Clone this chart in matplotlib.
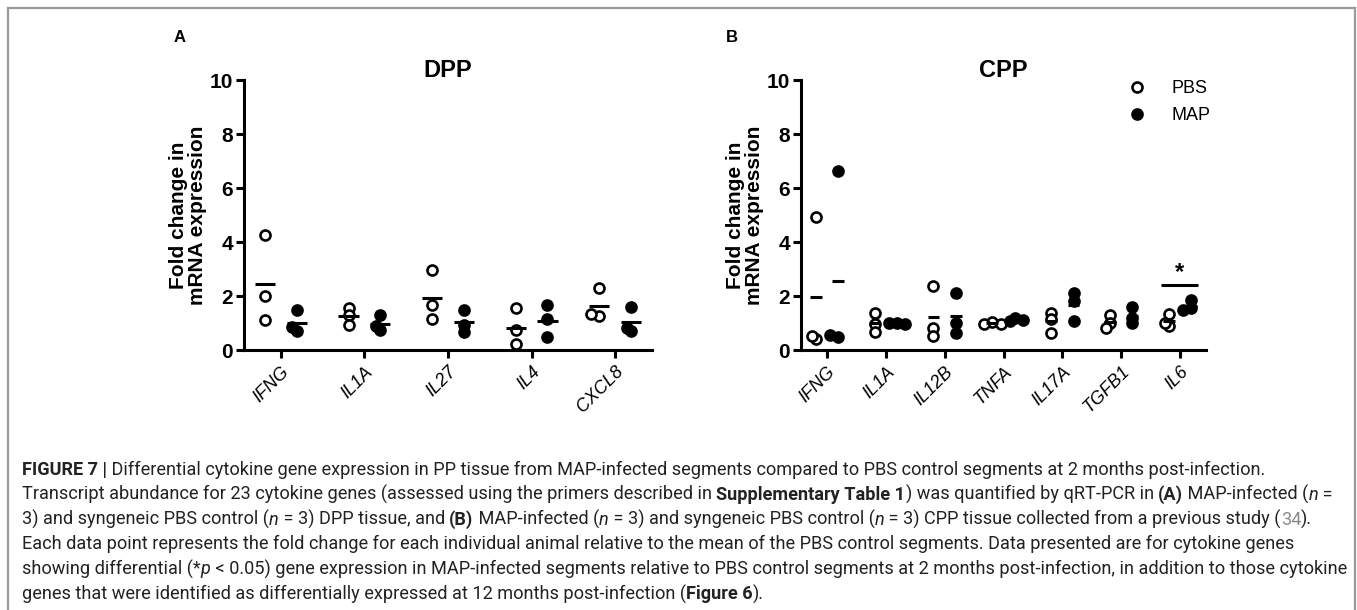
import numpy as np
import matplotlib
matplotlib.use("Agg")
import matplotlib.pyplot as plt
from matplotlib import font_manager
from matplotlib.lines import Line2D

# fold change values (3 animals per group)
genes_a = ["IFNG", "IL1A", "IL27", "IL4", "CXCL8"]
pbs_a = [[4.25, 2.0, 1.1], [1.54, 1.29, 0.94], [2.98, 1.66, 1.14],
         [1.54, 0.73, 0.23], [2.29, 1.25, 1.35]]
map_a = [[1.47, 0.69, 0.87], [1.29, 0.75, 0.89], [1.5, 0.66, 0.91],
         [1.66, 1.13, 0.48], [1.58, 0.69, 0.83]]

genes_b = ["IFNG", "IL1A", "IL12B", "TNFA", "IL17A", "TGFB1", "IL6"]
pbs_b = [[4.94, 0.4, 0.52], [1.36, 0.95, 0.67], [2.37, 0.83, 0.52],
         [1.02, 0.95, 0.98], [1.38, 1.16, 0.64], [1.28, 1.01, 0.83],
         [1.32, 0.89, 1.0]]
map_b = [[6.64, 0.49, 0.56], [1.01, 1.01, 0.95], [2.12, 0.99, 0.64],
         [1.2, 1.07, 1.11], [2.1, 1.81, 1.07], [1.6, 1.2, 1.01],
         [1.85, 1.55, 1.5]]

sig_gene_b = "IL6"
sig_height = 2.4

W, H = 1357, 610
plt.rcParams["font.family"] = ["Liberation Sans", "DejaVu Sans"]
fig = plt.figure(figsize=(W / 100, H / 100), dpi=100)


def fx(px):
    return px / W


def fy(py):
    return 1 - py / H


def swarm(ax, x0, vals, diam=10.0):
    # simple beeswarm, points may overlap a bit like in Prism
    fig.canvas.draw()
    bb = ax.get_window_extent()
    x_lo, x_hi = ax.get_xlim()
    y_lo, y_hi = ax.get_ylim()
    kx = bb.width / (x_hi - x_lo)
    ky = bb.height / (y_hi - y_lo)
    placed = []
    xs = []
    step = 0.42 * diam
    for v in vals:
        for k in [0, -1, 1, -2, 2]:
            px = k * step
            py = v * ky
            if all(np.hypot(px - a, py - b) >= 0.5 * diam for a, b in placed):
                break
        placed.append((px, py))
        xs.append(x0 + px / kx)
    return xs


def panel(rect, genes, pbs, mapv, title, off, half):
    ax = fig.add_axes(rect)
    n = len(genes)
    ax.set_xlim(-0.44, n - 0.56)
    ax.set_ylim(0, 10)
    for s in ["top", "right"]:
        ax.spines[s].set_visible(False)
    for s in ["left", "bottom"]:
        ax.spines[s].set_linewidth(2.2)
    ax.tick_params(axis="both", direction="out", length=6, width=2.2)
    ax.set_yticks([0, 2, 4, 6, 8, 10])
    ax.set_yticklabels(["0", "2", "4", "6", "8", "10"], fontsize=15,
                       fontweight="bold")
    ax.tick_params(axis="y", pad=2)
    ax.set_xticks(range(n))
    ax.set_xticklabels(genes, rotation=45, ha="right", va="top",
                       rotation_mode="anchor", fontsize=13, style="italic")
    ax.set_ylabel("Fold change in\nmRNA expression", fontsize=15,
                  fontweight="bold", labelpad=2, linespacing=1.0)
    ax.set_title(title, fontsize=17, fontweight="bold", pad=2, y=1.0)
    for i in range(n):
        for vals, fc, dx in [(pbs[i], "white", -off), (mapv[i], "black", off)]:
            xs = swarm(ax, i + dx, vals)
            ax.scatter(xs, vals, s=52, facecolors=fc, edgecolors="black",
                       linewidths=1.9, zorder=3, clip_on=False)
            ax.hlines(np.mean(vals), i + dx - half, i + dx + half,
                      colors="black", linewidth=2.2, zorder=4)
    return ax


ax_a = panel([fx(244), fy(350), fx(652) - fx(244), fy(80) - fy(350)],
             genes_a, pbs_a, map_a, "DPP", 0.19, 0.12)
ax_b = panel([fx(801), fy(350), fx(1206) - fx(801), fy(80) - fy(350)],
             genes_b, pbs_b, map_b, "CPP", 0.19, 0.1)

# significance bar over IL6
k = genes_b.index(sig_gene_b)
ax_b.hlines(sig_height, k - 0.32, k + 0.3, colors="black", linewidth=2.2)
ax_b.text(k - 0.01, sig_height + 0.05, "*", ha="center", va="bottom",
          fontsize=17, fontweight="bold")

# legend
handles = [Line2D([], [], marker="o", ls="none", ms=7.2, mfc="white",
                  mec="black", mew=1.9),
           Line2D([], [], marker="o", ls="none", ms=7.2, mfc="black",
                  mec="black", mew=1.9)]
ax_b.legend(handles, ["PBS", "MAP"], loc="upper left",
            bbox_to_anchor=(0.745, 1.06), frameon=False, fontsize=13,
            handletextpad=0.9, labelspacing=0.55)

fig.text(fx(180), fy(37), "A", fontsize=12, fontweight="bold",
         ha="center", va="center")
fig.text(fx(732), fy(37), "B", fontsize=12, fontweight="bold",
         ha="center", va="center")

# border of the figure box
for xs, ys in [([8, 8], [8, 640]), ([8, 1355], [8, 8]), ([1355, 1355], [8, 640])]:
    fig.add_artist(Line2D([fx(x) for x in xs], [fy(y) for y in ys],
                          color="#9a9a9a", lw=1.6))

# caption
names = {f.name for f in font_manager.fontManager.ttflist}
cap_font = next(f for f in ["Liberation Sans Narrow", "Roboto",
                            "Liberation Sans"] if f in names)

cap_lines = [
    [("FIGURE 7 |", "b"), (" Differential cytokine gene expression in PP tissue from MAP-infected segments compared to PBS control segments at 2 months post-infection.", "")],
    [("Transcript abundance for 23 cytokine genes (assessed using the primers described in ", ""), ("Supplementary Table 1", "b"), (") was quantified by qRT-PCR in ", ""), ("(A)", "b"), (" MAP-infected (", ""), ("n", "i"), (" =", "")],
    [("3) and syngeneic PBS control (", ""), ("n", "i"), (" = 3) DPP tissue, and ", ""), ("(B)", "b"), (" MAP-infected (", ""), ("n", "i"), (" = 3) and syngeneic PBS control (", ""), ("n", "i"), (" = 3) CPP tissue collected from a previous study (", ""), ("34", "g"), (").", "")],
    [("Each data point represents the fold change for each individual animal relative to the mean of the PBS control segments. Data presented are for cytokine genes", "")],
    [("showing differential (*", ""), ("p", "i"), (" < 0.05) gene expression in MAP-infected segments relative to PBS control segments at 2 months post-infection, in addition to those cytokine", "")],
    [("genes that were identified as differentially expressed at 12 months post-infection (", ""), ("Figure 6", "b"), (").", "")],
]

renderer = fig.canvas.get_renderer()


def write_line(y, parts, size, draw=True):
    x = 22
    made = []
    for txt, st in parts:
        t = fig.text(fx(x), fy(y), txt, fontsize=size, family=cap_font,
                     fontweight="bold" if st == "b" else "normal",
                     style="italic" if st == "i" else "normal",
                     color="#8a8a8a" if st == "g" else "#222222",
                     va="center", ha="left")
        x += t.get_window_extent(renderer).width
        made.append(t)
    if not draw:
        for t in made:
            t.remove()
    return x - 22


w1 = write_line(470, cap_lines[0], 12, draw=False)
cap_size = 12 * (1262 - 22) / w1
for j, parts in enumerate(cap_lines):
    write_line(470 + j * 24.8, parts, cap_size)

fig.savefig("out.png", dpi=100)
